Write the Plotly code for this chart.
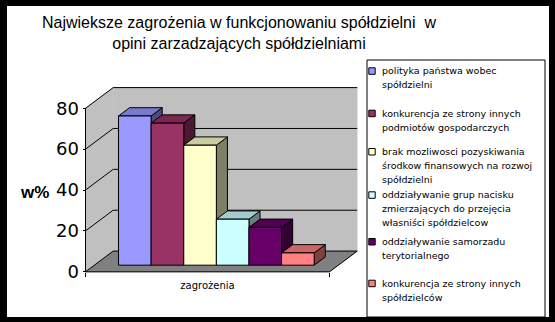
import plotly.graph_objects as go

# ---------------- data ----------------
CATEGORY = "zagrożenia"
SERIES_NAMES = [
    "polityka państwa wobec\nspółdzielni",
    "konkurencja ze strony innych\npodmiotów gospodarczych",
    "brak mozliwosci pozyskiwania\nśrodkow finansowych na rozwoj\nspółdzielni",
    "oddziaływanie grup nacisku\nzmierzających do przejęcia\nwłasniści spółdzielcow",
    "oddziaływanie samorzadu\nterytorialnego",
    "konkurencja ze strony innych\nspółdzielców",
]
VALUES = [73.0, 69.5, 58.7, 22.5, 18.5, 6.0]
COLORS = ["#9999FF", "#993366", "#FFFFCC", "#CCFFFF", "#660066", "#FF8080"]
Y_TICKS = [0, 20, 40, 60, 80]
TITLE_LINES = ["Najwieksze zagrożenia w funkcjonowaniu spółdzielni  w",
               "opini zarzadzających spółdzielniami"]
Y_LABEL = "w%"

# ---------------- layout geometry ----------------
W, H = 555, 322
M_L, M_R, M_T, M_B = 7, 6, 6, 5
PW, PH = W - M_L - M_R, H - M_T - M_B

FRONT_LEFT_PX, FRONT_RIGHT_PX = 85.5, 329.5   # floor front edge (x = 0 .. 1)
ZERO_PX, TOP_PX = 271.8, 108.3                # value 0 and 80 on the front plane
SX = FRONT_RIGHT_PX - FRONT_LEFT_PX
SY = (ZERO_PX - TOP_PX) / 80.0
X_LO = -(FRONT_LEFT_PX - M_L) / SX
X_HI = X_LO + PW / SX
Y_HI = (ZERO_PX - M_T) / SY
Y_LO = Y_HI - PH / SY

DX = 27.7 / SX          # depth offset of the 3-D box in data units
DY = 20.7 / SY
F0, F1 = 0.32, 0.72     # bar front/back depth fractions
GAP = 0.099             # empty space at each side of the category
BW = (1 - 2 * GAP) / len(VALUES)

WALL = "#C0C0C0"
FLOOR = "#808080"


def px_to_paper(px, py):
    return (px - M_L) / PW, 1 - (py - M_T) / PH


def shade(hex_color, k):
    r, g, b = (int(hex_color[i:i + 2], 16) for i in (1, 3, 5))
    return "rgb({},{},{})".format(int(r * k), int(g * k), int(b * k))


fig = go.Figure()


def add_poly(xs, ys, fill, width=1.0):
    fig.add_trace(go.Scatter(
        x=list(xs) + [xs[0]], y=list(ys) + [ys[0]], mode="lines",
        fill="toself", fillcolor=fill,
        line=dict(color="black" if width else fill, width=width if width else 0.5),
        hoverinfo="skip", showlegend=False))


def add_line(xs, ys):
    fig.add_trace(go.Scatter(
        x=xs, y=ys, mode="lines", line=dict(color="black", width=1),
        hoverinfo="skip", showlegend=False))


top = Y_TICKS[-1]
# walls and floor
add_poly([DX, 1 + DX, 1 + DX, DX], [DY, DY, top + DY, top + DY], WALL, 0)
add_poly([0, DX, DX, 0], [0, DY, top + DY, top], WALL, 0)
add_poly([0, 1, 1 + DX, DX], [0, 0, DY, DY], FLOOR, 0)

# gridlines across side wall and back wall
for g in Y_TICKS:
    add_line([0, DX, 1 + DX], [g, g + DY, g + DY])
add_line([0, 1, 1 + DX], [0, 0, DY])
add_line([0, 0], [0, top])

# bars, left to right so each one hides the side face of the previous one
for i, (v, c) in enumerate(zip(VALUES, COLORS)):
    xl = GAP + i * BW
    xr = xl + BW
    a, b = (F0 * DX, F0 * DY), (F1 * DX, F1 * DY)
    add_poly([xr + a[0], xr + b[0], xr + b[0], xr + a[0]],
             [a[1], b[1], v + b[1], v + a[1]], shade(c, 0.5))
    add_poly([xl + a[0], xr + a[0], xr + b[0], xl + b[0]],
             [v + a[1], v + a[1], v + b[1], v + b[1]], shade(c, 0.8))
    add_poly([xl + a[0], xr + a[0], xr + a[0], xl + a[0]],
             [a[1], a[1], v + a[1], v + a[1]], c)

annotations = []
shapes = []

# title
tx, ty = px_to_paper(239, 33)
annotations.append(dict(
    text="<br>".join(TITLE_LINES), x=tx, y=ty, xref="paper", yref="paper",
    xanchor="center", yanchor="middle", showarrow=False,
    font=dict(family="Liberation Sans, Arial", size=16, color="black")))

# value-axis label
lx, ly = px_to_paper(34.5, 192)
annotations.append(dict(
    text="<b>{}</b>".format(Y_LABEL), x=lx, y=ly, xref="paper", yref="paper",
    xanchor="center", yanchor="middle", showarrow=False,
    font=dict(family="Liberation Sans, Arial", size=17, color="black")))

# legend box with colour keys
bx0, by0 = px_to_paper(367, 60)
bx1, by1 = px_to_paper(545, 317)
shapes.append(dict(type="rect", xref="paper", yref="paper", x0=bx0, y0=by1,
                   x1=bx1, y1=by0, line=dict(color="black", width=1),
                   fillcolor="white", layer="above"))
ROW_Y = [69.3, 111.7, 150.0, 193.3, 240.0, 281.7]
LINE_STEP = 14.0
for name, c, ry in zip(SERIES_NAMES, COLORS, ROW_Y):
    mx0, my0 = px_to_paper(368.8, ry - 1.5)
    mx1, my1 = px_to_paper(375.2, ry + 5.0)
    shapes.append(dict(type="rect", xref="paper", yref="paper", x0=mx0, y0=my1,
                       x1=mx1, y1=my0, line=dict(color="black", width=1),
                       fillcolor=c, layer="above"))
    for k, part in enumerate(name.split("\n")):
        ax, ay = px_to_paper(379.5, ry + 1.5 + k * LINE_STEP)
        annotations.append(dict(
            text=part, x=ax, y=ay, xref="paper", yref="paper",
            xanchor="left", yanchor="middle", showarrow=False,
            font=dict(family="DejaVu Sans", size=9.5, color="black")))

fig.update_layout(
    width=W, height=H,
    margin=dict(l=M_L, r=M_R, t=M_T, b=M_B, pad=0),
    paper_bgcolor="black", plot_bgcolor="white",
    showlegend=False,
    xaxis=dict(
        range=[X_LO, X_HI], anchor="free", position=(H - M_B - ZERO_PX) / PH,
        showgrid=False, zeroline=False, showline=False,
        tickmode="array", tickvals=[0.5], ticktext=[CATEGORY],
        ticks="outside", ticklen=4, tickcolor="rgba(0,0,0,0)",
        tickfont=dict(family="DejaVu Sans", size=10, color="black"),
        minor=dict(tickmode="array", tickvals=[0, 1], ticks="outside",
                   ticklen=4, tickcolor="black", tickwidth=1),
        fixedrange=True),
    yaxis=dict(
        range=[Y_LO, Y_HI], anchor="free",
        position=(FRONT_LEFT_PX - M_L) / PW,
        showgrid=False, zeroline=False, showline=False,
        tickmode="array", tickvals=Y_TICKS,
        ticks="outside", ticklen=3, tickcolor="black", tickwidth=1,
        tickfont=dict(family="DejaVu Sans", size=18, color="black"),
        fixedrange=True),
    annotations=annotations,
    shapes=shapes,
)

fig.write_html("out.html")
